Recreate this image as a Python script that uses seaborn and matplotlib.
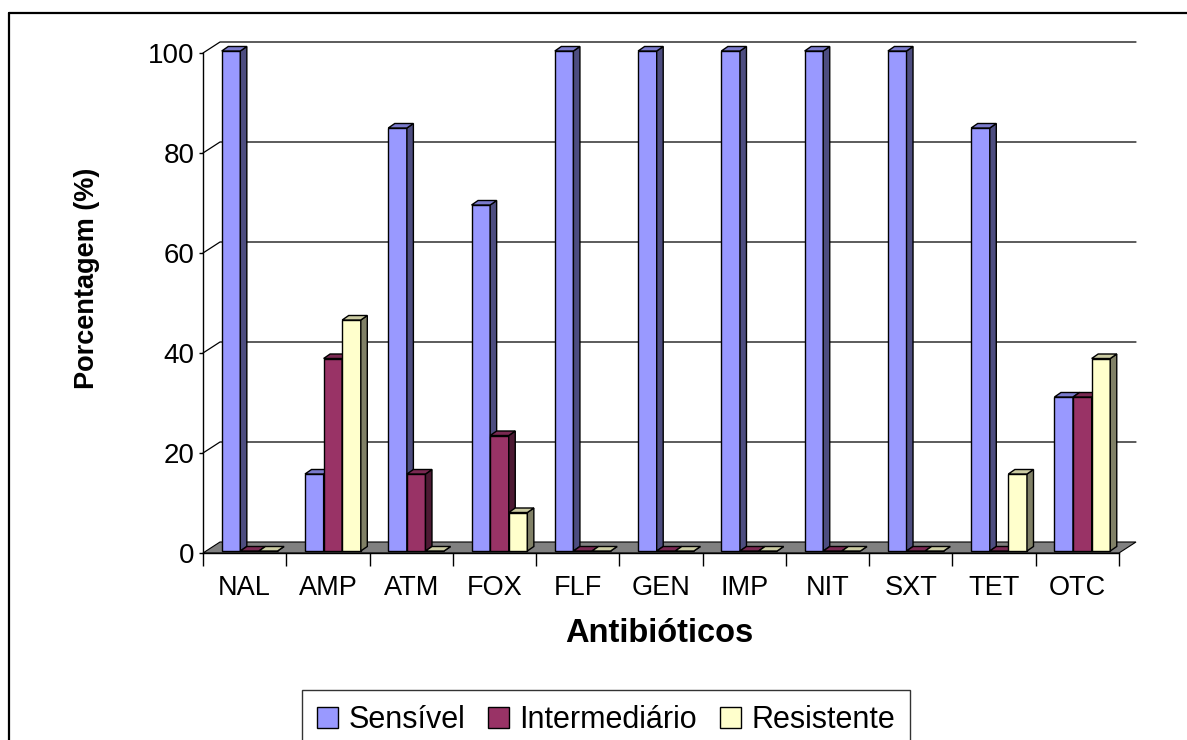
import numpy as np
import pandas as pd
import matplotlib
matplotlib.use('Agg')
import matplotlib.pyplot as plt
from matplotlib.patches import Polygon, Patch
from matplotlib.lines import Line2D
from matplotlib.transforms import IdentityTransform, ScaledTranslation
import seaborn as sns

# dados
antibioticos = ['NAL', 'AMP', 'ATM', 'FOX', 'FLF', 'GEN', 'IMP', 'NIT', 'SXT', 'TET', 'OTC']
sensivel = [100, 15.4, 84.6, 69.2, 100, 100, 100, 100, 100, 84.6, 30.8]
intermediario = [0, 38.5, 15.4, 23.1, 0, 0, 0, 0, 0, 0, 30.8]
resistente = [0, 46.2, 0, 7.7, 0, 0, 0, 0, 0, 15.4, 38.5]
grupos = ['Sensível', 'Intermediário', 'Resistente']
cores = ['#9999FF', '#993366', '#FFFFCC']
y_ticks = [0, 20, 40, 60, 80, 100]

sns.set_style('white')
plt.rcParams['font.family'] = ['Liberation Sans', 'DejaVu Sans']
plt.rcParams['text.color'] = 'black'
plt.rcParams['xtick.color'] = 'black'
plt.rcParams['ytick.color'] = 'black'

W, H = 1187, 740
fig = plt.figure(figsize=(W / 100, H / 100), dpi=100)
ax = fig.add_axes([203 / W, 1 - 553 / H, 916 / W, 500 / H])
ax.patch.set_alpha(0)

df = pd.DataFrame({'Antibiótico': antibioticos, grupos[0]: sensivel,
                   grupos[1]: intermediario, grupos[2]: resistente})
df = df.melt(id_vars='Antibiótico', var_name='Resultado', value_name='Porcentagem')

sns.barplot(data=df, x='Antibiótico', y='Porcentagem', hue='Resultado',
            hue_order=grupos, palette=cores, width=0.67, saturation=1,
            edgecolor='black', linewidth=1, legend=False, ax=ax)
barras = list(ax.patches)

ax.set_xlim(-0.5, len(antibioticos) - 0.5)
ax.set_ylim(0, 100)
ax.set_xlabel('')
ax.set_ylabel('')

# eixos
for s in ['top', 'right']:
    ax.spines[s].set_visible(False)
for s in ['left', 'bottom']:
    ax.spines[s].set_color('black')
    ax.spines[s].set_linewidth(1)
    ax.spines[s].set_zorder(10)
ax.set_yticks(y_ticks)
ax.tick_params(axis='y', labelsize=20, length=3, width=1, color='black', labelcolor='black', pad=3, left=True)
ax.set_xticks(range(len(antibioticos)))
ax.set_xticks(np.arange(-0.5, len(antibioticos)), minor=True)
ax.tick_params(axis='x', which='major', labelsize=19.5, length=0, pad=16, labelcolor='black')
ax.tick_params(axis='x', which='minor', length=9, width=1, color='black', bottom=True)

fig.canvas.draw()
T = ax.transData.transform
prof = np.array([17, 11])     # parede do fundo
desl = np.array([5, 2])       # posição das barras na profundidade
esp = np.array([6.5, 4.5])    # espessura das barras
x0, x1 = ax.get_xlim()
ident = IdentityTransform()

# linhas de grade na parede do fundo
for y in y_ticks[1:]:
    a = T((x0, y))
    b = T((x1, y)) + prof
    ax.add_line(Line2D([a[0], a[0] + prof[0], b[0]], [a[1], a[1] + prof[1], b[1]],
                       transform=ident, color='black', lw=0.9, zorder=0.5, clip_on=False))

# piso
fl, fr = T((x0, 0)), T((x1, 0))
ax.add_patch(Polygon([fl, fr, fr + prof, fl + prof], closed=True, transform=ident,
                     facecolor='#808080', edgecolor='black', lw=0.8, zorder=0.6, clip_on=False))

# barras em 3D
for p in barras:
    bx, by, bw, bh = p.get_x(), p.get_y(), p.get_width(), p.get_height()
    cor = np.array(p.get_facecolor()[:3])
    z = 2 + (bx + 1) * 0.1
    p.set_transform(ax.transData + ScaledTranslation(desl[0] / 100, desl[1] / 100, fig.dpi_scale_trans))
    p.set_zorder(z)
    p.set_clip_on(False)
    br = T((bx + bw, by)) + desl
    tl = T((bx, by + bh)) + desl
    tr = T((bx + bw, by + bh)) + desl
    ax.add_patch(Polygon([br, tr, tr + esp, br + esp], closed=True, transform=ident,
                         facecolor=cor * 0.5, edgecolor='black', lw=1, zorder=z + 0.01, clip_on=False))
    ax.add_patch(Polygon([tl, tr, tr + esp, tl + esp], closed=True, transform=ident,
                         facecolor=cor * 0.8, edgecolor='black', lw=1, zorder=z + 0.02, clip_on=False))

# títulos
fig.text(87 / W, 1 - 278 / H, 'Porcentagem (%)', rotation=90, ha='center', va='center',
         fontsize=19.5, fontweight='bold')
fig.text(659 / W, 1 - 633 / H, 'Antibióticos', ha='center', va='center',
         fontsize=23.5, fontweight='bold')

# legenda
alcas = [Patch(facecolor=c, edgecolor='black', label=g) for c, g in zip(cores, grupos)]
leg = fig.legend(handles=alcas, loc='upper center', bbox_to_anchor=(606 / W, 1 - 690 / H),
                 ncol=3, frameon=True, fancybox=False, edgecolor='black', fontsize=22,
                 handlelength=0.68, handleheight=0.68, handletextpad=0.35, columnspacing=0.75,
                 borderpad=0.5, borderaxespad=0)
leg.get_frame().set_linewidth(1)

# moldura externa
fig.add_artist(Line2D([9.5 / W, 9.5 / W], [0, 1 - 13 / H], transform=fig.transFigure, color='black', lw=1.6))
fig.add_artist(Line2D([9 / W, 1], [1 - 13 / H, 1 - 13 / H], transform=fig.transFigure, color='black', lw=1.6))

fig.savefig('out.png', dpi=100)
